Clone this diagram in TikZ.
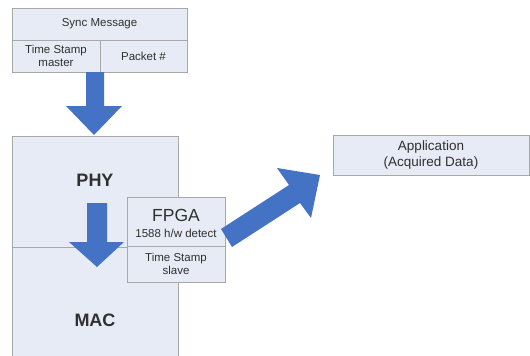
\documentclass[tikz,border=0pt]{standalone}
\usepackage{fontspec}
\setmainfont{Liberation Sans}
\definecolor{boxfill}{HTML}{E7EBF5}
\definecolor{boxline}{HTML}{A8A8A8}
\definecolor{arrowblue}{HTML}{4472C4}
\definecolor{txt}{HTML}{303030}
\begin{document}
\begin{tikzpicture}[x=1pt,y=-1pt,
  cell/.style={draw=boxline, fill=boxfill, line width=0.8pt, inner sep=0pt, outer sep=0pt, text=txt, align=center, anchor=north west},
  blockarrow/.style={fill=arrowblue, draw=none},
  small/.style={font=\fontsize{11.5}{13}\selectfont},
  big/.style={font=\fontsize{18}{20}\selectfont\bfseries}]
\useasboundingbox (0,0) rectangle (530,356);
% top message box
\node[cell, minimum width=175pt, minimum height=32pt, small] (sync) at (12,8) {Sync Message};
\node[cell, minimum width=88pt, minimum height=32pt, small] (tsm) at (12,40) {Time Stamp\\master};
\node[cell, minimum width=87pt, minimum height=32pt, small] (pkt) at (100,40) {Packet \#};
% PHY / MAC
\node[cell, minimum width=166pt, minimum height=111pt, big] (phy) at (12,136) {};
\node[txt, big] (phyt) at (95,180) {PHY};
\node[cell, minimum width=166pt, minimum height=115pt, big] (mac) at (12,247) {};
\node[txt, big] (mact) at (95,320) {MAC};
% arrow 1
\path[blockarrow] (86,72) -- (104,72) -- (104,106) -- (122,106) -- (94,135) -- (66,106) -- (86,106) -- cycle;
% arrow 2
\path[blockarrow] (87,203) -- (107,203) -- (107,242) -- (124,242) -- (97,267) -- (69,242) -- (87,242) -- cycle;
% FPGA
\node[cell, minimum width=98pt, minimum height=49pt] (fpga) at (127,197) {};
\node[text=txt, font=\fontsize{17.5}{19}\selectfont] (fpgat) at (176,215) {FPGA};
\node[text=txt, font=\fontsize{11.5}{13}\selectfont] (det) at (176,233) {1588 h/w detect};
\node[cell, minimum width=98pt, minimum height=36pt, small] (tss) at (127,246) {Time Stamp\\slave};
% Application
\node[cell, minimum width=196pt, minimum height=40pt, font=\fontsize{13.5}{16}\selectfont] (app) at (333,135) {Application\\(Acquired Data)};
% diagonal arrow
\path[blockarrow] (221,229) -- (289,185) -- (277,168) -- (320,175) -- (311,218) -- (300,203) -- (232,247) -- cycle;
\end{tikzpicture}
\end{document}
